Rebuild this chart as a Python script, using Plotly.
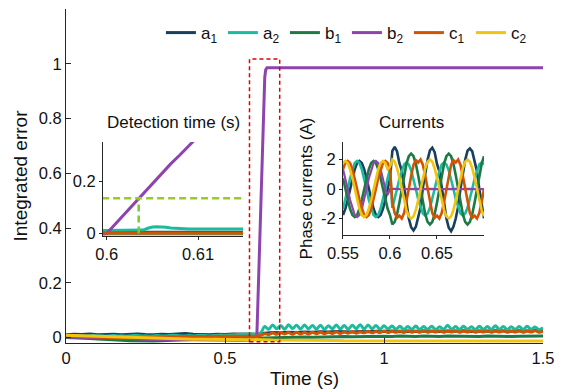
import plotly.graph_objects as go

# ---------------- data ----------------
names = ["a<sub>1</sub>", "a<sub>2</sub>", "b<sub>1</sub>", "b<sub>2</sub>", "c<sub>1</sub>", "c<sub>2</sub>"]
colors = ["#173f5f", "#1abc9c", "#1e7a45", "#8e44ad", "#d35400", "#f1c40f"]

# main plot: integrated error
t_coarse = [round(0.025 * k, 4) for k in range(61)]
t_fine = [round(0.0125 * k, 5) for k in range(121)]

err_a1 = [0.010, 0.012, 0.011, 0.013, 0.010, 0.011, 0.012, 0.010, 0.011, 0.013, 0.011, 0.010,
          0.012, 0.011, 0.013, 0.015, 0.012, 0.011, 0.010, 0.012, 0.011, 0.013, 0.012, 0.011,
          0.012,
          0.016, 0.018, 0.017, 0.019, 0.018, 0.020, 0.019, 0.021, 0.020, 0.022, 0.021, 0.020,
          0.022, 0.021, 0.023, 0.022, 0.024, 0.021, 0.023, 0.022, 0.024, 0.023, 0.022, 0.024,
          0.023, 0.025, 0.022, 0.024, 0.023, 0.025, 0.024, 0.023, 0.025, 0.024, 0.026, 0.030]

err_b1 = [0.000, -0.002, -0.003, -0.004, -0.005, -0.006, -0.008, -0.010, -0.012, -0.013, -0.014, -0.013,
          -0.012, -0.010, -0.009, -0.008, -0.007, -0.006, -0.006, -0.005, -0.005, -0.004, -0.004, -0.003,
          -0.002, -0.001, 0.000, 0.001, 0.000, 0.001, 0.002, 0.001, 0.002, 0.003, 0.002, 0.004,
          0.003, 0.004, 0.005, 0.004, 0.005, 0.004, 0.006, 0.005, 0.004, 0.006, 0.005, 0.004,
          0.006, 0.005, 0.006, 0.005, 0.004, 0.006, 0.005, 0.006, 0.004, 0.005, 0.006, 0.005, 0.006]

err_c2 = [0.008, 0.007, 0.006, 0.005, 0.004, 0.003, 0.002, 0.001, 0.000, -0.001, -0.002, -0.003,
          -0.004, -0.004, -0.005, -0.005, -0.006, -0.006, -0.006, -0.007, -0.007, -0.007, -0.008, -0.008,
          -0.008, -0.008, -0.009, -0.009, -0.009, -0.010, -0.010, -0.010, -0.011, -0.011, -0.011, -0.012,
          -0.012, -0.012, -0.012, -0.012, -0.013, -0.012, -0.013, -0.012, -0.013, -0.013, -0.012, -0.013,
          -0.013, -0.012, -0.013, -0.013, -0.013, -0.012, -0.013, -0.013, -0.013, -0.012, -0.013, -0.013, -0.013]

err_a2 = [0.005, 0.006, 0.006, 0.007, 0.006, 0.005, 0.006, 0.007, 0.006, 0.006,
          0.005, 0.006, 0.007, 0.006, 0.006, 0.005, 0.006, 0.007, 0.007, 0.006,
          0.006, 0.005, 0.006, 0.007, 0.006, 0.006, 0.007, 0.008, 0.007, 0.006,
          0.006, 0.007, 0.006, 0.007, 0.008, 0.007, 0.006, 0.007, 0.008, 0.009,
          0.008, 0.009, 0.010, 0.011, 0.012, 0.012, 0.013,
          0.013, 0.012, 0.018, 0.040,
          0.030, 0.046, 0.032, 0.044, 0.030, 0.047, 0.033, 0.045, 0.031, 0.046,
          0.032, 0.044, 0.031, 0.045, 0.030, 0.043, 0.032, 0.046, 0.031, 0.044,
          0.030, 0.045, 0.032, 0.047, 0.031, 0.046, 0.032, 0.044, 0.030, 0.043,
          0.031, 0.042, 0.030, 0.041, 0.029, 0.040, 0.030, 0.042, 0.029, 0.040,
          0.030, 0.041, 0.029, 0.039, 0.030, 0.045, 0.030, 0.040, 0.029, 0.041,
          0.030, 0.039, 0.029, 0.041, 0.030, 0.040, 0.029, 0.043, 0.030, 0.040,
          0.029, 0.039, 0.030, 0.040, 0.029, 0.041, 0.030, 0.038, 0.029, 0.036]

err_c1 = [0.006, 0.005, 0.005, 0.004, 0.004, 0.003, 0.003, 0.002, 0.002, 0.001,
          0.001, 0.000, 0.000, 0.000, -0.001, -0.001, 0.000, 0.000, 0.001, 0.001,
          0.002, 0.002, 0.001, 0.002, 0.003, 0.002, 0.003, 0.003, 0.002, 0.003,
          0.003, 0.004, 0.003, 0.004, 0.004, 0.003, 0.004, 0.004, 0.005, 0.004,
          0.005, 0.004, 0.005, 0.005, 0.004, 0.005, 0.005,
          0.005, 0.005, 0.008, 0.014,
          0.011, 0.017, 0.012, 0.018, 0.013, 0.018, 0.012, 0.019, 0.013, 0.018,
          0.013, 0.019, 0.014, 0.020, 0.014, 0.019, 0.015, 0.021, 0.015, 0.020,
          0.016, 0.022, 0.016, 0.021, 0.017, 0.023, 0.017, 0.022, 0.018, 0.024,
          0.018, 0.023, 0.019, 0.024, 0.018, 0.025, 0.019, 0.024, 0.019, 0.025,
          0.019, 0.024, 0.020, 0.025, 0.019, 0.024, 0.020, 0.025, 0.019, 0.024,
          0.020, 0.025, 0.019, 0.024, 0.020, 0.025, 0.019, 0.024, 0.020, 0.025,
          0.019, 0.024, 0.020, 0.025, 0.019, 0.024, 0.020, 0.025, 0.019, 0.022]

t_b2 = [0, 0.05, 0.1, 0.15, 0.2, 0.25, 0.3, 0.35, 0.4, 0.45, 0.5, 0.55, 0.58, 0.6,
        0.602, 0.604, 0.606, 0.608, 0.61, 0.615, 0.62, 0.625, 0.628, 0.632, 0.65, 0.8, 1.0, 1.2, 1.5]
err_b2 = [0.002, 0.001, 0.000, -0.002, -0.004, -0.006, -0.007, -0.008, -0.009, -0.010, -0.010, -0.010, -0.009, 0.000,
          0.075, 0.152, 0.228, 0.305, 0.380, 0.575, 0.765, 0.950, 0.978, 0.985, 0.985, 0.985, 0.985, 0.985, 0.985]

# zoom window drawn on the main plot (x0, x1, y0, y1)
zoom_box = [0.577, 0.672, -0.015, 1.017]

# inset 1: detection time
t_det = [0.5995, 0.6, 0.601, 0.602, 0.603, 0.6035, 0.604, 0.6045, 0.605, 0.6055, 0.606, 0.6065,
         0.607, 0.608, 0.609, 0.61, 0.612, 0.615]
det_a1 = [0.005, 0.005, 0.005, 0.006, 0.005, 0.005, 0.006, 0.005, 0.005, 0.006, 0.005, 0.005,
          0.006, 0.005, 0.005, 0.006, 0.005, 0.005]
det_a2 = [0.011, 0.011, 0.011, 0.011, 0.011, 0.011, 0.013, 0.020, 0.025, 0.026, 0.026, 0.024,
          0.021, 0.018, 0.017, 0.017, 0.017, 0.017]
det_b1 = [0.001, 0.001, 0.001, 0.001, 0.001, 0.001, 0.001, 0.001, 0.001, 0.001, 0.001, 0.001,
          0.001, 0.001, 0.001, 0.001, 0.001, 0.001]
det_b2 = [-0.005, 0.000, 0.038, 0.076, 0.114, 0.135, 0.153, 0.172, 0.191, 0.210, 0.229, 0.247,
          0.266, 0.300, 0.336, 0.372, 0.440, 0.550]
det_c1 = [0.002, 0.002, 0.002, 0.002, 0.002, 0.002, 0.002, 0.002, 0.002, 0.002, 0.002, 0.002,
          0.002, 0.002, 0.002, 0.002, 0.002, 0.002]
det_c2 = [-0.012, -0.012, -0.012, -0.012, -0.012, -0.012, -0.012, -0.012, -0.012, -0.012, -0.012, -0.012,
          -0.012, -0.012, -0.012, -0.012, -0.012, -0.012]
detect_time = 0.6035
detect_level = 0.135

# inset 2: phase currents
t_cur = [round(0.55 + 0.0025 * k, 5) for k in range(61)]
cur_a1 = [-1.76, -1.34, -0.73, 0.00, 0.73, 1.34, 1.76, 1.90, 1.76, 1.34, 0.73, 0.00, -0.73, -1.34, -1.76, -1.90,
          -1.76, -1.34, -0.73, 0.00, 0.73,
          2.59, 2.85, 2.55, 1.75, 1.25, 0.05, -0.85, -1.98, -2.59, -2.80,
          -2.55, -1.98, -1.25, 0.10, 1.07, 1.98, 2.62, 2.80, 2.50, 1.70,
          1.20, 0.00, -0.90, -1.98, -2.62, -2.85, -2.55, -1.98, -1.20, 0.05,
          1.07, 1.98, 2.59, 2.75, 2.55, 1.75, 1.20, 0.00, -1.07, -1.98]
cur_a2 = [-1.34, -0.73, 0.00, 0.73, 1.34, 1.76, 1.90, 1.76, 1.34, 0.73, 0.00, -0.73, -1.34, -1.76, -1.90, -1.76,
          -1.34, -0.73, 0.00, 0.73, 1.34,
          -1.27, -0.69, 0.00, 0.69, 1.27, 1.66, 1.80, 1.66, 1.27, 0.69,
          0.00, -0.69, -1.27, -1.66, -1.80, -1.66, -1.27, -0.69, 0.00, 0.69,
          1.27, 1.66, 1.80, 1.66, 1.27, 0.69, 0.00, -0.69, -1.27, -1.66,
          -1.80, -1.66, -1.27, -0.69, 0.00, 0.69, 1.27, 1.66, 1.80, 1.66]
cur_b1 = [0.73, 0.00, -0.73, -1.34, -1.76, -1.90, -1.76, -1.34, -0.73, 0.00, 0.73, 1.34, 1.76, 1.90, 1.76, 1.34,
          0.73, 0.00, -0.73, -1.34, -1.76,
          -2.40, -2.22, -1.70, -0.92, 0.00, 0.92, 1.70, 2.22, 2.40, 2.22,
          1.70, 0.92, 0.00, -0.92, -1.70, -2.22, -2.40, -2.22, -1.70, -0.92,
          0.00, 0.92, 1.70, 2.22, 2.40, 2.22, 1.70, 0.92, 0.00, -0.92,
          -1.70, -2.22, -2.40, -2.22, -1.70, -0.92, 0.00, 0.92, 1.70, 2.22]
cur_b2 = [1.34, 0.73, 0.00, -0.73, -1.34, -1.76, -1.90, -1.76, -1.34, -0.73, 0.00, 0.73, 1.34, 1.76, 1.90, 1.76,
          1.34, 0.73, 0.00, -0.40, 0.00,
          0.02, -0.01, 0.01, 0.00, 0.02, -0.01, 0.00, 0.01, -0.01, 0.02,
          0.00, 0.01, -0.01, 0.00, 0.02, 0.00, -0.01, 0.01, 0.00, 0.01,
          -0.01, 0.00, 0.02, 0.00, -0.01, 0.01, 0.00, 0.01, -0.01, 0.00,
          0.02, 0.00, -0.01, 0.01, 0.00, 0.01, -0.01, 0.00, 0.01, 0.00]
cur_c1 = [1.34, 1.76, 1.90, 1.76, 1.34, 0.73, 0.00, -0.73, -1.34, -1.76, -1.90, -1.76, -1.34, -0.73, 0.00, 0.73,
          1.34, 1.76, 1.90, 1.76, 1.34,
          -0.88, -1.63, -1.95, -1.80, -2.00, -1.63, -0.88, 0.00, 0.88, 1.63,
          1.95, 1.80, 2.00, 1.63, 0.88, 0.00, -0.88, -1.63, -1.95, -1.80,
          -2.00, -1.63, -0.88, 0.00, 0.88, 1.63, 1.95, 1.80, 2.00, 1.63,
          0.88, 0.00, -0.88, -1.63, -1.95, -1.80, -2.00, -1.63, -0.88, 0.00]
cur_c2 = [1.76, 1.90, 1.76, 1.34, 0.73, 0.00, -0.73, -1.34, -1.76, -1.90, -1.76, -1.34, -0.73, 0.00, 0.73, 1.34,
          1.76, 1.90, 1.76, 1.34, 1.50,
          2.00, 1.85, 1.41, 0.77, 0.00, -0.77, -1.41, -1.85, -2.00, -1.85,
          -1.41, -0.77, 0.00, 0.77, 1.41, 1.85, 2.00, 1.85, 1.41, 0.77,
          0.00, -0.77, -1.41, -1.85, -2.00, -1.85, -1.41, -0.77, 0.00, 0.77,
          1.41, 1.85, 2.00, 1.85, 1.41, 0.77, 0.00, -0.77, -1.41, -1.85]

# ---------------- figure ----------------
FONT = "Liberation Sans, Arial, sans-serif"
AX = "#262626"
TXT = "#111111"
fig = go.Figure()

main_x = [t_coarse, t_fine, t_coarse, t_b2, t_fine, t_coarse]
main_y = [err_a1, err_a2, err_b1, err_b2, err_c1, err_c2]
for i in range(6):
    shape = "spline" if i in (1, 4) else "linear"
    fig.add_trace(go.Scatter(x=main_x[i], y=main_y[i], mode="lines", name=names[i],
                             line=dict(color=colors[i], width=3, shape=shape), xaxis="x", yaxis="y"))

det_y = [det_a1, det_a2, det_b1, det_b2, det_c1, det_c2]
for i in range(6):
    fig.add_trace(go.Scatter(x=t_det, y=det_y[i], mode="lines", showlegend=False,
                             line=dict(color=colors[i], width=3), xaxis="x2", yaxis="y2"))
fig.add_trace(go.Scatter(x=[t_det[0], t_det[-1]], y=[detect_level, detect_level], mode="lines",
                         showlegend=False, line=dict(color="#99cc22", width=2.5, dash="7px,4px"),
                         xaxis="x2", yaxis="y2"))
fig.add_trace(go.Scatter(x=[detect_time, detect_time], y=[0, detect_level], mode="lines",
                         showlegend=False, line=dict(color="#77cc33", width=2.5, dash="7px,4px"),
                         xaxis="x2", yaxis="y2"))

cur_y = [cur_a1, cur_a2, cur_b1, cur_b2, cur_c1, cur_c2]
for i in range(6):
    fig.add_trace(go.Scatter(x=t_cur, y=cur_y[i], mode="lines", showlegend=False,
                             line=dict(color=colors[i], width=2.6 if i != 3 else 2.2),
                             xaxis="x3", yaxis="y3"))

fig.add_shape(type="rect", xref="x", yref="y", x0=zoom_box[0], x1=zoom_box[1], y0=zoom_box[2], y1=zoom_box[3],
              line=dict(color="#e00000", width=1.5, dash="4px,3px"))

common = dict(showgrid=False, zeroline=False, showline=True, linecolor=AX, linewidth=1, automargin=False,
              tickcolor=AX, tickfont=dict(family=FONT, size=16.5, color=TXT), mirror=False)

fig.update_layout(
    width=562, height=389,
    margin=dict(l=66, r=19, t=9, b=46),
    paper_bgcolor="white", plot_bgcolor="white",
    font=dict(family=FONT, size=16, color=TXT),
    showlegend=True,
    legend=dict(orientation="h", x=0.199, y=0.928, xanchor="left", yanchor="middle",
                bgcolor="rgba(0,0,0,0)", font=dict(family=FONT, size=17, color=TXT), itemwidth=30,
                entrywidth=17, entrywidthmode="pixels", tracegroupgap=0),
    xaxis=dict(domain=[0, 1], range=[0, 1.5], tickvals=[0, 0.5, 1, 1.5], ticktext=["0", "0.5", "1", "1.5"],
               ticks="inside", ticklen=5, title=dict(text="Time (s)", font=dict(family=FONT, size=19, color=TXT), standoff=5),
               anchor="y", **common),
    yaxis=dict(domain=[0, 1], range=[-0.02, 1.2], tickvals=[0, 0.2, 0.4, 0.6, 0.8, 1],
               ticktext=["0", "0.2", "0.4", "0.6", "0.8", "1"], ticks="inside", ticklen=5,
               title=dict(text="Integrated error", font=dict(family=FONT, size=19, color=TXT), standoff=6),
               anchor="x", **common),
    xaxis2=dict(domain=[0.0776, 0.371], range=[0.5996, 0.6149], tickvals=[0.6, 0.61], ticktext=["0.6", "0.61"],
                ticks="outside", ticklen=3, anchor="y2", **common),
    yaxis2=dict(domain=[0.320, 0.602], range=[-0.01, 0.35], tickvals=[0, 0.2], ticktext=["0", "0.2"],
                ticks="outside", ticklen=3, anchor="x2", **common),
    xaxis3=dict(domain=[0.5807, 0.8763], range=[0.55, 0.70], tickvals=[0.55, 0.6, 0.65],
                ticktext=["0.55", "0.6", "0.65"], ticks="outside", ticklen=3, anchor="y3", **common),
    yaxis3=dict(domain=[0.323, 0.602], range=[-3.12, 3.19], tickvals=[-2, 0, 2], ticktext=["-2", "0", "2"],
                ticks="outside", ticklen=3, anchor="x3",
                title=dict(text="Phase currents (A)", font=dict(family=FONT, size=17, color=TXT), standoff=4),
                **common),
    annotations=[
        dict(text="Detection time (s)", xref="paper", yref="paper", x=0.2245, y=0.659,
             xanchor="center", yanchor="middle", showarrow=False, font=dict(family=FONT, size=17, color=TXT)),
        dict(text="Currents", xref="paper", yref="paper", x=0.725, y=0.659,
             xanchor="center", yanchor="middle", showarrow=False, font=dict(family=FONT, size=17, color=TXT)),
    ],
)

fig.write_html("out.html", config={"displayModeBar": False},
               post_script="document.body.style.margin='0';")
